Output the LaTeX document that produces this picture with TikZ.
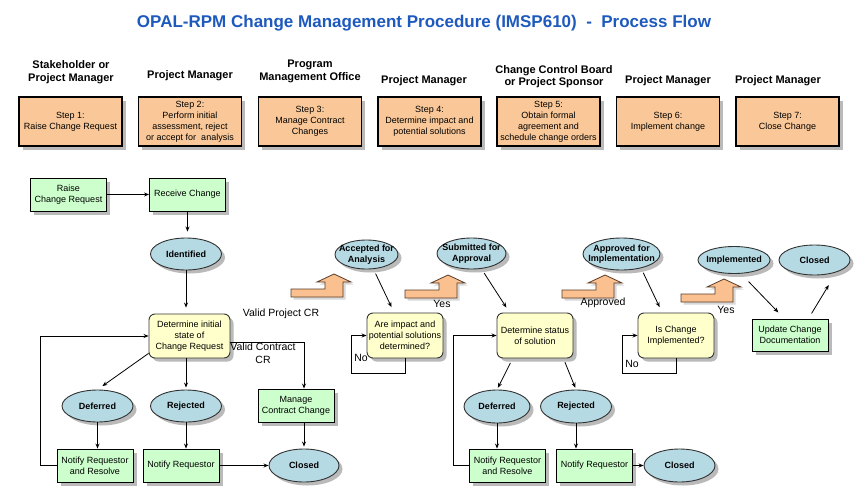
\documentclass[tikz,border=0pt]{standalone}
\usepackage{fontspec}
\setmainfont{Liberation Sans}
\usetikzlibrary{arrows.meta,shapes.geometric,shadows,calc}
\definecolor{titleblue}{RGB}{30,90,190}
\definecolor{peach}{RGB}{250,200,152}
\definecolor{greenbox}{RGB}{204,255,204}
\definecolor{yellowbox}{RGB}{255,255,204}
\definecolor{ellfill}{RGB}{182,218,228}
\definecolor{orangearr}{RGB}{250,192,143}
\definecolor{arrborder}{RGB}{90,60,40}
\tikzset{
  shadowed/.style={drop shadow={shadow xshift=3.5pt,shadow yshift=-3.5pt,fill=black!45,opacity=0.6}},
  stepbox/.style={draw=black,line width=1.1pt,fill=peach,minimum width=103pt,minimum height=49pt,
    inner sep=0pt,align=center,font=\fontsize{9}{11}\selectfont,shadowed},
  gbox/.style={draw=black,line width=0.9pt,fill=greenbox,minimum width=76pt,minimum height=33pt,
    inner sep=0pt,align=center,font=\fontsize{9}{11}\selectfont,shadowed},
  qbox/.style={draw=black!80,line width=0.9pt,fill=yellowbox,rounded corners=6pt,minimum width=76pt,minimum height=45pt,
    inner sep=0pt,align=center,font=\fontsize{9}{11}\selectfont,shadowed},
  stxt/.style={font=\fontsize{9}{10.5}\selectfont\bfseries,align=center,inner sep=0pt},
  state/.style={ellipse,draw=black!80,line width=0.9pt,fill=ellfill,inner sep=0pt,shadowed},
  role/.style={font=\fontsize{11}{12.5}\selectfont\bfseries,align=center,inner sep=0pt},
  lbl/.style={font=\fontsize{10.5}{13}\selectfont,align=center,inner sep=0pt},
  arr/.style={-{Stealth[length=5pt,width=4pt]},line width=0.8pt,draw=black},
  bentarr/.pic={\draw[draw=arrborder,line width=0.8pt,fill=orangearr,
      drop shadow={shadow xshift=2.5pt,shadow yshift=-2.5pt,fill=black!30,opacity=0.5}]
      (0,0) -- (52,0) -- (52,-15) -- (60,-15) -- (43,-23) -- (26,-15) -- (34,-15) -- (34,-8) -- (0,-8) -- cycle;}
}
\begin{document}
\begin{tikzpicture}[x=1pt,y=-1pt]
\useasboundingbox[fill=white] (0,0) rectangle (864,495);

% title
\node[font=\fontsize{17}{20}\selectfont\bfseries,text=titleblue,inner sep=0pt] (title) at (424,23)
  {OPAL-RPM Change Management Procedure (IMSP610)\ \ -\ \ Process Flow};

% roles
\node[role] (r1) at (71,72) {Stakeholder or\\Project Manager};
\node[role] (r2) at (190,76) {Project Manager};
\node[role] (r3) at (310,71.5) {Program\\Management Office};
\node[role] (r4) at (424,81) {Project Manager};
\node[role] (r5) at (554,76.5) {Change Control Board\\or Project Sponsor};
\node[role] (r6) at (668,81) {Project Manager};
\node[role] (r7) at (778,81) {Project Manager};

% steps
\node[stepbox] (s1) at (70.5,121.5) {Step 1:\\Raise Change Request};
\node[stepbox] (s2) at (190,121.5) {Step 2:\\Perform initial\\assessment, reject\\or accept for\ \ analysis};
\node[stepbox] (s3) at (310,121.5) {Step 3:\\Manage Contract\\Changes};
\node[stepbox] (s4) at (429.5,121.5) {Step 4:\\Determine impact and\\potential solutions};
\node[stepbox] (s5) at (548.5,121.5) {Step 5:\\Obtain formal\\agreement and\\schedule change orders};
\node[stepbox] (s6) at (668,121.5) {Step 6:\\Implement change};
\node[stepbox] (s7) at (787.5,121.5) {Step 7:\\Close Change};

% left flow
\node[gbox] (raise) at (68.5,194.5) {Raise\\Change Request};
\node[gbox] (receive) at (187.5,194.5) {Receive Change};
\node[state,minimum width=71pt,minimum height=32pt,label={[stxt]center:Identified}] (ident) at (186,254) {};
\node[qbox,minimum width=81pt,minimum height=44pt] (det) at (189.5,336) {Determine initial\\state of\\Change Request};
\node[state,minimum width=71pt,minimum height=32pt,label={[stxt]center:Deferred}] (def1) at (97.5,406) {};
\node[state,minimum width=71pt,minimum height=32pt,label={[stxt]center:Rejected}] (rej1) at (186,406) {};
\node[gbox] (manage) at (296,405.5) {Manage\\Contract Change};
\node[gbox] (not1) at (95,465.5) {Notify Requestor\\and Resolve};
\node[gbox] (not2) at (181,465.5) {Notify Requestor};
\node[state,minimum width=70pt,minimum height=33pt,label={[stxt]center:Closed}] (clo1) at (304,465.5) {};

\draw[arr] (raise) -- (receive);
\draw[arr,shorten >=6pt] (receive.south) -- (receive.south |- ident.north);
\draw[arr,shorten >=6pt] (ident.south) -- (ident.south |- det.north);
\draw[arr,shorten >=6pt] (det.203) -- (def1.north);
\draw[arr,shorten >=2pt] (rej1.north |- det.south) -- (rej1.north);
\draw[arr] (def1.south) -- (def1.south |- not1.north);
\draw[arr] (rej1.south) -- (rej1.south |- not2.north);
\draw[arr] (not2) -- (clo1);
\draw[arr] (not1.west) -- ++(-16,0) |- (det.west);
\draw[arr] ($(det.east)+(0,6)$) -| (clo1.north |- manage.north);
\draw[arr,shorten >=2pt] (clo1.north |- manage.south) -- (clo1.north);

\node[lbl] (vp) at (281,314) {Valid Project CR};
\node[lbl] (vc) at (263,353.5) {Valid Contract\\CR};

% middle flow
\node[state,minimum width=63pt,minimum height=29pt,label={[stxt]center:{Accepted for\\Analysis}}] (acc) at (366.5,254.5) {};
\node[qbox] (q1) at (405,335.5) {Are impact and\\potential solutions\\determined?};
\node[state,minimum width=69pt,minimum height=31pt,label={[stxt]center:{Submitted for\\Approval}}] (sub) at (471.5,253.5) {};
\node[qbox] (q2) at (535,335.5) {Determine status\\of solution};
\node[state,minimum width=66pt,minimum height=33pt,label={[stxt]center:Deferred}] (def2) at (497,406.5) {};
\node[state,minimum width=71pt,minimum height=33pt,label={[stxt]center:Rejected}] (rej2) at (576,406.5) {};
\node[gbox] (not3) at (507.5,465.5) {Notify Requestor\\and Resolve};
\node[gbox] (not4) at (594.5,465.5) {Notify Requestor};
\node[state,minimum width=71pt,minimum height=33pt,label={[stxt]center:Closed}] (clo2) at (679.5,465.5) {};

\pic at (291,297) {bentarr};
\pic at (405,298) {bentarr};

\draw[arr,shorten <=5pt,shorten >=6pt] (acc) -- (q1);
\draw[arr] (q1.south) |- ++(-54,15) |- (q1.west);
\draw[arr,shorten <=5pt,shorten >=6pt] (sub) -- ($(q2.north west)!0.17!(q2.north east)$);
\draw[arr] (not3.west) -- ++(-16,0) |- (q2.west);
\draw[arr,shorten <=5pt,shorten >=2pt] ($(q2.south west)!0.21!(q2.south east)$) -- (def2.north);
\draw[arr,shorten <=4pt,shorten >=2pt] ($(q2.south west)!0.87!(q2.south east)$) -- (rej2.north);
\draw[arr] (def2.south) -- (def2.south |- not3.north);
\draw[arr] (rej2.south) -- (rej2.south |- not4.north);
\draw[arr] (not4) -- (clo2);

\node[lbl] (no1) at (361,358) {No};
\node[lbl] (yes1) at (442,304) {Yes};

% right flow
\node[state,minimum width=77pt,minimum height=32pt,label={[stxt]center:{Approved for\\Implementation}}] (appr) at (621.5,254) {};
\node[qbox] (q3) at (676,335.5) {Is Change\\Implemented?};
\node[state,minimum width=72pt,minimum height=27pt,label={[stxt]center:Implemented}] (impl) at (734,260) {};
\node[state,minimum width=71pt,minimum height=30pt,label={[stxt]center:Closed}] (clo3) at (814.5,260) {};
\node[gbox,minimum height=32pt] (upd) at (790,335) {Update Change\\Documentation};

\pic at (562,298) {bentarr};
\pic at (681,302) {bentarr};

\draw[arr,shorten <=5pt,shorten >=6pt] (appr.-36) -- ($(q3.north west)!0.32!(q3.north east)$);
\draw[arr] (q3.south) |- ++(-54,15) |- (q3.west);
\draw[arr,shorten <=11pt,shorten >=8.5pt] (impl.-63) -- ($(upd.north west)!0.425!(upd.north east)$);
\draw[arr,shorten <=6pt,shorten >=15pt] ($(upd.north west)!0.74!(upd.north east)$) -- (clo3.-29);

\node[lbl] (appl) at (603,303) {Approved};
\node[lbl] (no2) at (632,364) {No};
\node[lbl] (yes2) at (726,310) {Yes};
\end{tikzpicture}
\end{document}
